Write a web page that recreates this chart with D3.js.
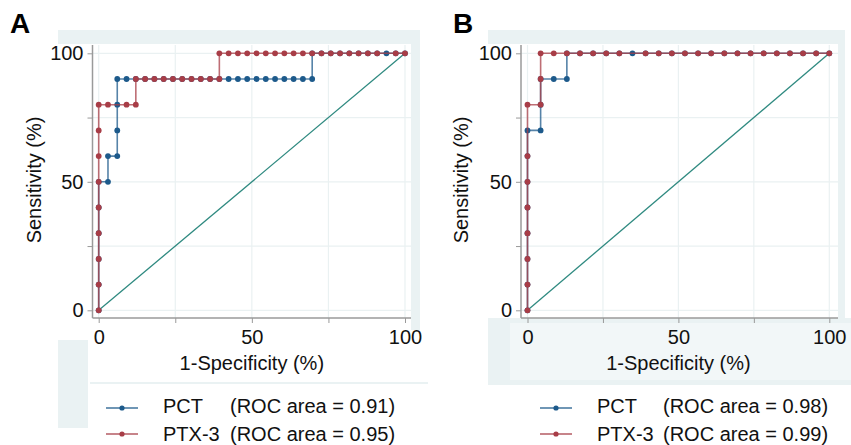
<!DOCTYPE html>
<html>
<head>
<meta charset="utf-8">
<script src="https://cdn.jsdelivr.net/npm/d3@7/dist/d3.min.js"></script>
<style>
  html, body { margin: 0; padding: 0; background: #ffffff; }
  svg { display: block; font-family: "Liberation Sans", Arial, sans-serif; }
</style>
</head>
<body>
<svg id="chart" width="851" height="445"></svg>
<script>
// ---------------- data ----------------
const panelNames = ["A", "B"];
const seriesNames = ["PCT", "PTX-3"];
const rocAreasA = ["(ROC area = 0.91)", "(ROC area = 0.95)"];
const rocAreasB = ["(ROC area = 0.98)", "(ROC area = 0.99)"];
const tickValues = [0, 25, 50, 75, 100];
const tickLabels = [0, 50, 100];
const xTitle = "1-Specificity (%)";
const yTitle = "Sensitivity (%)";

// Panel A: [1-specificity %, sensitivity %]
const pctA = [[0,0],[0,10],[0,20],[0,30],[0,40],[0,50],[3.03,50],[3.03,60],[6.06,60],[6.06,70],[6.06,80],[6.06,90],
  [9.09,90],[12.12,90],[15.15,90],[18.18,90],[21.21,90],[24.24,90],[27.27,90],[30.30,90],[33.33,90],[36.36,90],
  [39.39,90],[42.42,90],[45.45,90],[48.48,90],[51.52,90],[54.55,90],[57.58,90],[60.61,90],[63.64,90],[66.67,90],
  [69.70,90],[69.70,100],[72.73,100],[75.76,100],[78.79,100],[81.82,100],[84.85,100],[87.88,100],[90.91,100],
  [93.94,100],[96.97,100],[100,100]];
const ptxA = [[0,0],[0,10],[0,20],[0,30],[0,40],[0,50],[0,60],[0,70],[0,80],[3.03,80],[9.09,80],[12.12,80],
  [12.12,90],[15.15,90],[18.18,90],[21.21,90],[24.24,90],[27.27,90],[30.30,90],[33.33,90],[36.36,90],[39.39,90],
  [39.39,100],[42.42,100],[45.45,100],[48.48,100],[51.52,100],[54.55,100],[57.58,100],[60.61,100],[63.64,100],
  [66.67,100],[69.70,100],[72.73,100],[75.76,100],[78.79,100],[81.82,100],[84.85,100],[87.88,100],[90.91,100],
  [96.97,100],[100,100]];

// Panel B
const pctB = [[0,0],[0,10],[0,20],[0,30],[0,40],[0,50],[0,60],[0,70],[4.35,70],[4.35,80],[4.35,90],[8.70,90],
  [13.04,90],[13.04,100],[17.39,100],[21.74,100],[26.09,100],[30.43,100],[34.78,100],[39.13,100],[43.48,100],
  [47.83,100],[52.17,100],[56.52,100],[60.87,100],[65.22,100],[69.57,100],[73.91,100],[78.26,100],[82.61,100],
  [86.96,100],[91.30,100],[95.65,100],[100,100]];
const ptxB = [[0,0],[0,10],[0,20],[0,30],[0,40],[0,50],[0,60],[0,80],[4.35,80],[4.35,90],[4.35,100],[8.70,100],
  [13.04,100],[17.39,100],[21.74,100],[26.09,100],[30.43,100],[39.13,100],[43.48,100],[47.83,100],[52.17,100],
  [56.52,100],[60.87,100],[65.22,100],[69.57,100],[73.91,100],[78.26,100],[82.61,100],[86.96,100],[91.30,100],
  [95.65,100],[100,100]];

const diagonal = [[0,0],[100,100]];

// ---------------- styling ----------------
const colors = { pct: "#1d5a8b", ptx: "#a83d47", diag: "#2f8a80", band: "#eaf2f3", grid: "#eaf1f2", axis: "#9a9a9a" };

const svg = d3.select("#chart");

const panels = [
  { name: panelNames[0], pct: pctA, ptx: ptxA, areas: rocAreasA, x0: 98.7, x1: 405.0, axisX: 92.5, right: 411,
    letterX: 10, yTitleX: 41, legLine: [106, 138], legText: 163, legArea: 230,
    bands: [[58, 30, 362, 14], [411, 30, 9, 300], [58, 340, 30, 88], [90, 382, 338, 2]] },
  { name: panelNames[1], pct: pctB, ptx: ptxB, areas: rocAreasB, x0: 527.5, x1: 829.3, axisX: 521, right: 838,
    letterX: 453, yTitleX: 468, legLine: [540, 572], legText: 597, legArea: 663,
    bands: [[488, 30, 357, 14], [838, 30, 7, 290], [488, 318, 363, 67]] }
];

const yTop = 53.3, yBottom = 310.3, plotTop = 45, axisY = 318;

panels.forEach(p => {
  const g = svg.append("g");
  // background bands
  p.bands.forEach(b => g.append("rect").attr("x", b[0]).attr("y", b[1]).attr("width", b[2]).attr("height", b[3]).attr("fill", colors.band));
  if (p.name === "B") {
    g.append("rect").attr("x", 510).attr("y", 323).attr("width", 341).attr("height", 57).attr("fill", "#f2f7f8");
  }

  const x = d3.scaleLinear().domain([0, 100]).range([p.x0, p.x1]);
  const y = d3.scaleLinear().domain([0, 100]).range([yBottom, yTop]);

  // grid
  g.append("g").selectAll("line.h").data(tickValues).join("line")
    .attr("x1", p.axisX).attr("x2", p.right).attr("y1", d => y(d)).attr("y2", d => y(d))
    .attr("stroke", colors.grid).attr("stroke-width", 1.2);
  g.append("g").selectAll("line.v").data(tickValues).join("line")
    .attr("x1", d => x(d)).attr("x2", d => x(d)).attr("y1", plotTop).attr("y2", axisY)
    .attr("stroke", colors.grid).attr("stroke-width", 1.2);

  // axes
  const yAxis = d3.axisLeft(y).tickValues(tickValues).tickSize(5).tickPadding(4)
    .tickFormat(d => tickLabels.includes(d) ? d : "");
  const ya = g.append("g").attr("transform", `translate(${p.axisX},0)`).call(yAxis);
  ya.select(".domain").attr("d", `M0,${plotTop}V${axisY}`);
  const xAxis = d3.axisBottom(x).tickValues(tickValues).tickSize(5).tickPadding(7)
    .tickFormat(d => tickLabels.includes(d) ? d : "");
  const xa = g.append("g").attr("transform", `translate(0,${axisY})`).call(xAxis);
  xa.select(".domain").attr("d", `M${p.axisX},0H${p.right}`);
  [ya, xa].forEach(a => {
    a.select(".domain").attr("stroke", colors.axis).attr("stroke-width", 1.5);
    a.selectAll(".tick line").attr("stroke", colors.axis).attr("stroke-width", 1);
    a.selectAll(".tick text").attr("font-size", 20).attr("fill", "#111").attr("font-family", "Liberation Sans, Arial, sans-serif");
  });

  // titles
  g.append("text").attr("x", (p.x0 + p.x1) / 2).attr("y", 370).attr("text-anchor", "middle")
    .attr("font-size", 20).attr("fill", "#111").text(xTitle);
  g.append("text").attr("transform", `translate(${p.yTitleX},180) rotate(-90)`).attr("text-anchor", "middle")
    .attr("font-size", 20).attr("fill", "#111").text(yTitle);
  g.append("text").attr("x", p.letterX).attr("y", 33).attr("font-size", 28).attr("font-weight", "bold")
    .attr("fill", "#000").text(p.name);

  const line = d3.line().x(d => x(d[0])).y(d => y(d[1]));

  // diagonal reference
  g.append("path").datum(diagonal).attr("d", line).attr("fill", "none")
    .attr("stroke", colors.diag).attr("stroke-width", 1.3);

  [[p.pct, colors.pct], [p.ptx, colors.ptx]].forEach(([data, c]) => {
    g.append("path").datum(data).attr("d", line).attr("fill", "none")
      .attr("stroke", c).attr("stroke-opacity", 0.75).attr("stroke-width", 1.6);
    g.append("g").selectAll("circle").data(data).join("circle")
      .attr("cx", d => x(d[0])).attr("cy", d => y(d[1])).attr("r", 2.9).attr("fill", c);
  });

  // legend
  [[colors.pct, 408, 413], [colors.ptx, 434, 441]].forEach(([c, ly, ty], i) => {
    g.append("line").attr("x1", p.legLine[0]).attr("x2", p.legLine[1]).attr("y1", ly).attr("y2", ly)
      .attr("stroke", c).attr("stroke-opacity", 0.8).attr("stroke-width", 1.6);
    g.append("circle").attr("cx", (p.legLine[0] + p.legLine[1]) / 2).attr("cy", ly).attr("r", 2.6).attr("fill", c);
    g.append("text").attr("x", p.legText).attr("y", ty).attr("font-size", 20).attr("fill", "#111").text(seriesNames[i]);
    g.append("text").attr("x", p.legArea).attr("y", ty).attr("font-size", 20).attr("fill", "#111").text(p.areas[i]);
  });
});
</script>
</body>
</html>
